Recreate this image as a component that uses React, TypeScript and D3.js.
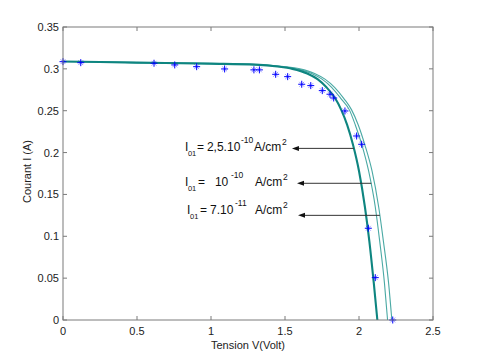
import React from 'react';
import * as d3 from 'd3';

// axis ticks
const tensionTicks = [0, 0.5, 1, 1.5, 2, 2.5];
const courantTicks = [0, 0.05, 0.1, 0.15, 0.2, 0.25, 0.3, 0.35];

// measured points (blue stars)
const mesureV = [0, 0.12, 0.615, 0.755, 0.903, 1.092, 1.29, 1.327, 1.437, 1.518, 1.613, 1.674, 1.752, 1.804, 1.829, 1.905, 1.984, 2.018, 2.063, 2.11, 2.228];
const mesureI = [0.3086, 0.3074, 0.3067, 0.3047, 0.3026, 0.2999, 0.2988, 0.2988, 0.2935, 0.2907, 0.2816, 0.28, 0.274, 0.2697, 0.2652, 0.2497, 0.2198, 0.2099, 0.1096, 0.0506, 0];

// simulated curves, read along the same current levels
const curveI = [0.3088, 0.3075, 0.3062, 0.305, 0.3028, 0.3, 0.2945, 0.2877, 0.278, 0.2645, 0.251, 0.233, 0.209, 0.178, 0.135, 0.094, 0.044, 0];
const curveV25e10 = [0, 0.5, 1.0, 1.3, 1.45, 1.55, 1.65, 1.72, 1.78, 1.84, 1.88, 1.92, 1.96, 2.0, 2.04, 2.07, 2.1, 2.124];
const curveV1e10 = [0, 0.5, 1.0, 1.3, 1.47, 1.58, 1.68, 1.75, 1.815, 1.878, 1.935, 1.975, 2.02, 2.065, 2.11, 2.14, 2.172, 2.193];
const curveV7e11 = [0, 0.5, 1.0, 1.3, 1.49, 1.6, 1.7, 1.77, 1.835, 1.898, 1.95, 1.995, 2.04, 2.088, 2.133, 2.165, 2.2, 2.222];

// annotations: arrow from curve (tailV) to head (headV) at current arrowI
const annotMantisse = ['2,5.10', '10', '7.10'];
const annotExposant = ['-10', '-10', '-11'];
const annotTailV = [1.965, 2.083, 2.141];
const annotHeadV = [1.547, 1.581, 1.588];
const annotArrowI = [0.205, 0.1633, 0.125];
const annotTextV = [0.824, 0.824, 0.838];
const annotTextI = [0.2013, 0.1601, 0.1266];

const W = 480;
const H = 360;
const margin = { top: 27, right: 47, bottom: 40, left: 63 };
const innerW = W - margin.left - margin.right;
const innerH = H - margin.top - margin.bottom;
const font = 'Liberation Sans, Arial, sans-serif';
const axisColor = '#7a7a7a';

// x offsets of the label pieces (relative to label start), per row
const labelLayout = [
  { eq: 12, mant: 22, exp: 56, unit: 69 },
  { eq: 13, mant: 30, exp: 46, unit: 70 },
  { eq: 13, mant: 23, exp: 48, unit: 68 },
];

function App() {
  const x = d3.scaleLinear().domain([0, 2.5]).range([0, innerW]);
  const y = d3.scaleLinear().domain([0, 0.35]).range([innerH, 0]);

  const line = d3
    .line<[number, number]>()
    .x((d) => x(d[0]))
    .y((d) => y(d[1]))
    .curve(d3.curveMonotoneX);

  const toPts = (vs: number[]) => vs.map((v, i) => [v, curveI[i]] as [number, number]);

  const star = (cx: number, cy: number, key: number) => (
    <g key={key} transform={`translate(${cx},${cy})`} stroke="#0000ff" strokeWidth={1}>
      <line x1={-2.4} y1={-2.4} x2={2.4} y2={2.4} opacity={0.4} />
      <line x1={-2.4} y1={2.4} x2={2.4} y2={-2.4} opacity={0.4} />
      <line x1={-3.5} y1={0} x2={3.5} y2={0} />
      <line x1={0} y1={-3.5} x2={0} y2={3.5} />
    </g>
  );

  return (
    <svg
      width={W}
      height={H}
      style={{ position: 'absolute', left: 0, top: 0, background: '#fff' }}
      fontFamily={font}
    >
      <g transform={`translate(${margin.left},${margin.top})`}>
        {/* curves */}
        <path d={line(toPts(curveV7e11)) || ''} fill="none" stroke="#4aa9a4" strokeWidth={1.1} />
        <path d={line(toPts(curveV1e10)) || ''} fill="none" stroke="#4aa9a4" strokeWidth={1.1} />
        <path d={line(toPts(curveV25e10)) || ''} fill="none" stroke="#0e8580" strokeWidth={2.1} />

        {/* measured points */}
        {mesureV.map((v, i) => star(x(v), y(mesureI[i]), i))}

        {/* annotations */}
        {annotMantisse.map((m, i) => {
          const ay = y(annotArrowI[i]);
          const hx = x(annotHeadV[i]);
          const tx = x(annotTextV[i]);
          const ty = y(annotTextI[i]);
          const lay = labelLayout[i];
          return (
            <g key={i} fill="#111">
              <line x1={x(annotTailV[i])} y1={ay} x2={hx + 5} y2={ay} stroke="#333" strokeWidth={1} />
              <path d={`M${hx},${ay}L${hx + 7},${ay - 2.5}L${hx + 7},${ay + 2.5}Z`} fill="#111" />
              <text x={tx} y={ty} fontSize={12}>I</text>
              <text x={tx + 3} y={ty + 5} fontSize={7.5}>01</text>
              <text x={tx + lay.eq} y={ty} fontSize={12}>=</text>
              <text x={tx + lay.mant} y={ty} fontSize={12}>{m}</text>
              <text x={tx + lay.exp} y={ty - 8} fontSize={8.5}>{annotExposant[i]}</text>
              <text x={tx + lay.unit} y={ty} fontSize={12}>A/cm</text>
              <text x={tx + lay.unit + 28} y={ty - 6} fontSize={8.5}>2</text>
            </g>
          );
        })}

        {/* box */}
        <rect x={0} y={0} width={innerW} height={innerH} fill="none" stroke={axisColor} strokeWidth={1} />

        {/* x ticks */}
        {tensionTicks.map((t) => (
          <g key={`x${t}`}>
            <line x1={x(t)} y1={innerH} x2={x(t)} y2={innerH - 4} stroke={axisColor} />
            <line x1={x(t)} y1={0} x2={x(t)} y2={4} stroke={axisColor} />
            <text x={x(t)} y={innerH + 15} fontSize={11} textAnchor="middle" fill="#222">
              {t}
            </text>
          </g>
        ))}

        {/* y ticks */}
        {courantTicks.map((t) => (
          <g key={`y${t}`}>
            <line x1={0} y1={y(t)} x2={4} y2={y(t)} stroke={axisColor} />
            <line x1={innerW} y1={y(t)} x2={innerW - 4} y2={y(t)} stroke={axisColor} />
            <text x={-4} y={y(t) + 4} fontSize={11} textAnchor="end" fill="#222">
              {t}
            </text>
          </g>
        ))}

        <text x={innerW / 2} y={innerH + 29} fontSize={11} textAnchor="middle" fill="#222">
          Tension V(Volt)
        </text>
        <text
          transform={`translate(${-32},${innerH / 2 - 2}) rotate(-90)`}
          fontSize={11}
          textAnchor="middle"
          fill="#222"
        >
          Courant I (A)
        </text>
      </g>
    </svg>
  );
}

export default App;
